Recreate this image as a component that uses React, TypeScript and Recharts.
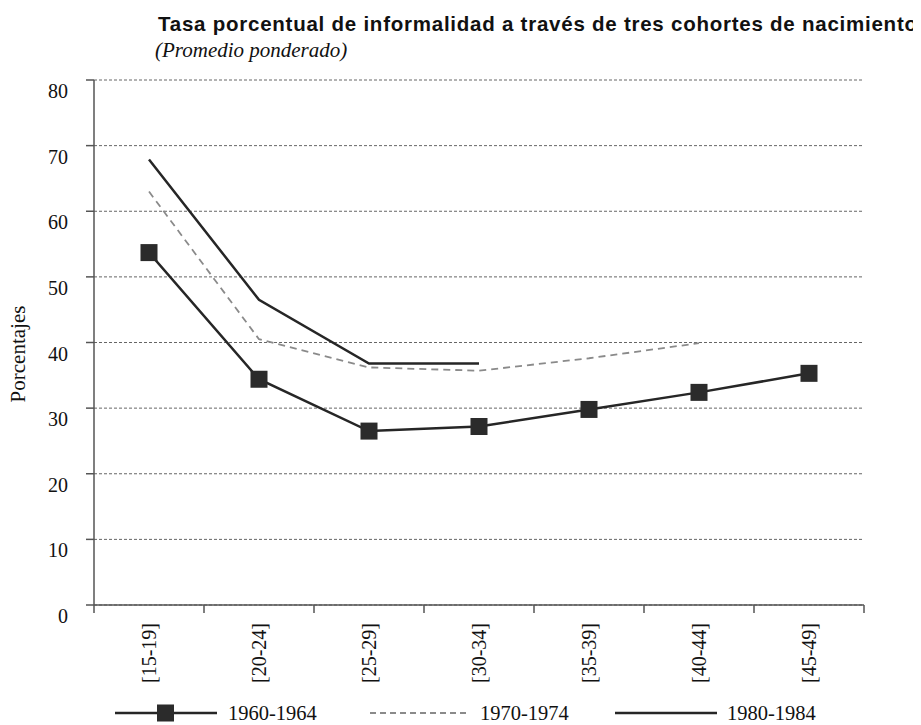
import React from 'react';
import { LineChart, Line, XAxis, YAxis, CartesianGrid, Legend } from 'recharts';

// Age groups (x categories) and the three birth cohorts
const AGE_GROUPS = ['[15-19]', '[20-24]', '[25-29]', '[30-34]', '[35-39]', '[40-44]', '[45-49]'];
const COHORT_1960 = [53.7, 34.4, 26.5, 27.2, 29.8, 32.4, 35.3];
const COHORT_1970 = [63.0, 40.5, 36.2, 35.7, 37.6, 39.9, null];
const COHORT_1980 = [67.9, 46.5, 36.8, 36.8, null, null, null];
const Y_TICKS = [0, 10, 20, 30, 40, 50, 60, 70, 80];

const TITLE = 'Tasa porcentual de informalidad a través de tres cohortes de nacimiento';
const SUBTITLE = '(Promedio ponderado)';

// points sit in the middle of each band, tick marks on the band edges
const DATA = AGE_GROUPS.map((label, i) => ({
  pos: i + 0.5,
  label,
  c1960: COHORT_1960[i],
  c1970: COHORT_1970[i],
  c1980: COHORT_1980[i],
}));
const X_TICKS = Array.from({ length: AGE_GROUPS.length * 2 + 1 }, (_, i) => i / 2);

const W = 905;
const H = 717;
const SERIF = '"Liberation Serif", "Times New Roman", serif';
const DARK = '#262626';
const GREY = '#8a8a8a';
const AXIS = '#555';

function AgeTick({ x, y, payload }: any) {
  const v = payload.value;
  if (Number.isInteger(v)) {
    return <line x1={x} x2={x} y1={y} y2={y + 8} stroke={AXIS} strokeWidth={1.5} />;
  }
  const tx = x + 7;
  const ty = y + 18;
  return (
    <text x={tx} y={ty} transform={`rotate(-90 ${tx} ${ty})`} textAnchor="end"
      fontFamily={SERIF} fontSize={20} fill="#111">
      {AGE_GROUPS[Math.floor(v)]}
    </text>
  );
}

function PctTick({ x, y, payload }: any) {
  return (
    <text x={x} y={y + 18} textAnchor="end" fontFamily={SERIF} fontSize={20} fill="#111">
      {payload.value}
    </text>
  );
}

function Square({ cx, cy, index }: any) {
  if (cx == null || cy == null) return <g key={index} />;
  return <rect key={index} x={cx - 8.5} y={cy - 8.5} width={17} height={17} fill="#2b2b2b" />;
}

function CohortLegend() {
  const y = 12;
  const ty = 19;
  return (
    <svg width={W} height={24} style={{ display: 'block', overflow: 'visible' }}>
      <line x1={107} x2={209} y1={y} y2={y} stroke={DARK} strokeWidth={2.5} />
      <rect x={149} y={y - 8.5} width={17} height={17} fill="#2b2b2b" />
      <text x={220} y={ty} fontFamily={SERIF} fontSize={20.5} fill="#111">1960-1964</text>
      <line x1={362} x2={458} y1={y} y2={y} stroke={GREY} strokeWidth={1.8} strokeDasharray="6 4" />
      <text x={472} y={ty} fontFamily={SERIF} fontSize={20.5} fill="#111">1970-1974</text>
      <line x1={607} x2={709} y1={y} y2={y} stroke={DARK} strokeWidth={2.5} />
      <text x={719} y={ty} fontFamily={SERIF} fontSize={20.5} fill="#111">1980-1984</text>
    </svg>
  );
}

export default function App() {
  return (
    <div style={{ position: 'relative', width: W, height: H }}>
      <LineChart width={W} height={H} data={DATA} margin={{ top: 72, right: 49, bottom: 0, left: 0 }}>
        <CartesianGrid vertical={false} stroke="#666" strokeDasharray="3 2" strokeWidth={1} />
        <XAxis
          dataKey="pos"
          type="number"
          domain={[0, AGE_GROUPS.length]}
          ticks={X_TICKS}
          interval={0}
          tick={<AgeTick />}
          tickLine={false}
          tickSize={0}
          tickMargin={0}
          height={96}
          stroke={AXIS}
          strokeWidth={1.5}
        />
        <YAxis
          domain={[0, 80]}
          ticks={Y_TICKS}
          width={86}
          tickSize={8}
          tickMargin={18}
          tick={<PctTick />}
          stroke={AXIS}
          strokeWidth={1.5}
        />
        <Legend verticalAlign="bottom" align="left" content={<CohortLegend />}
          wrapperStyle={{ height: 24, left: 0 }} />
        <Line dataKey="c1970" stroke={GREY} strokeWidth={1.8} strokeDasharray="7 5"
          dot={false} activeDot={false} isAnimationActive={false} />
        <Line dataKey="c1980" stroke={DARK} strokeWidth={2.5}
          dot={false} activeDot={false} isAnimationActive={false} />
        <Line dataKey="c1960" stroke={DARK} strokeWidth={2.5}
          dot={Square} activeDot={false} isAnimationActive={false} />
      </LineChart>
      <svg width={W + 8} height={H}
        style={{ position: 'absolute', left: 0, top: 0, pointerEvents: 'none', overflow: 'visible' }}>
        <text x={150} y={23} fontFamily='"Liberation Sans", Arial, sans-serif' fontWeight="bold"
          fontSize={20.5} textLength={759} fill="#111">{TITLE}</text>
        <text x={147} y={49} fontFamily={SERIF} fontStyle="italic" fontSize={21} fill="#111">{SUBTITLE}</text>
        <text x={17} y={346} transform="rotate(-90 17 346)" textAnchor="middle"
          fontFamily={SERIF} fontSize={21} fill="#111">Porcentajes</text>
      </svg>
    </div>
  );
}
